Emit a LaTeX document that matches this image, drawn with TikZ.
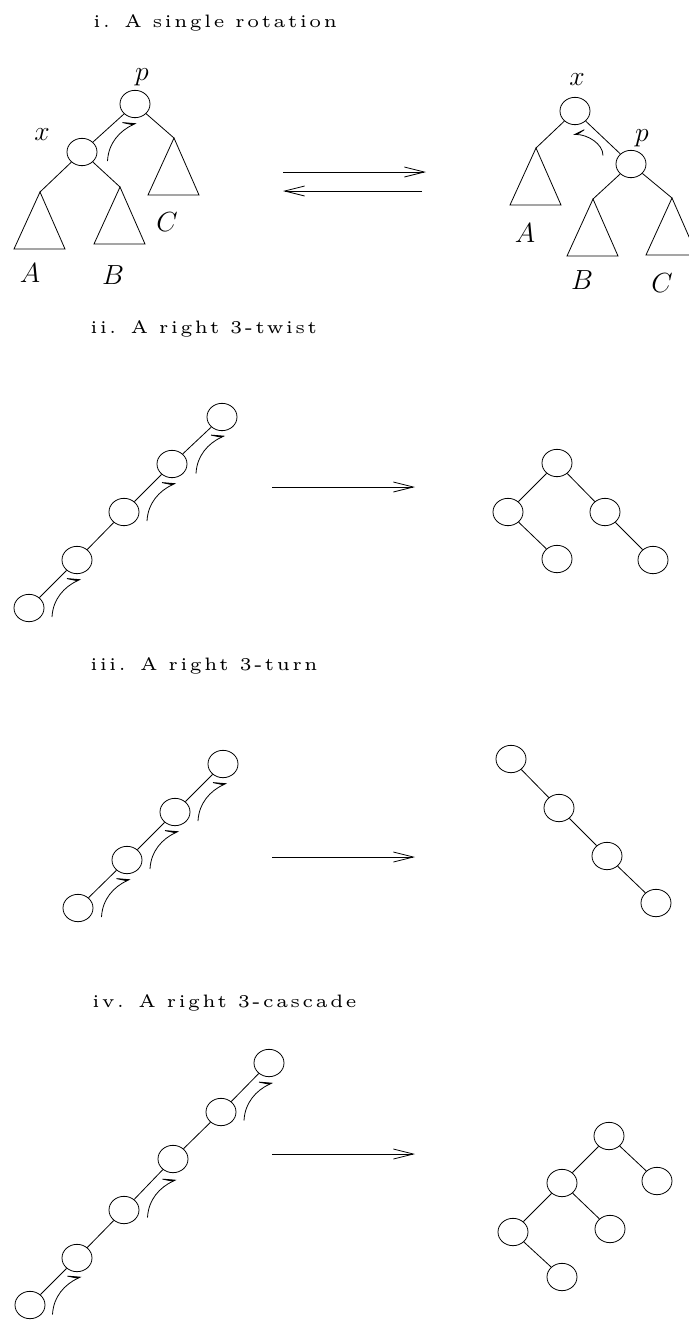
\documentclass[tikz,border=0pt]{standalone}
\usepackage{fontspec}
\usepackage{tikz}
\usetikzlibrary{arrows.meta,shapes.geometric,calc}
\newfontfamily\ttlfam{lmroman5-regular}[Extension=.otf, LetterSpace=12]
\newcommand\ttlfont{\fontsize{13.5}{16}\ttlfam}
\newcommand\lblfont{\fontsize{21}{23}\selectfont}
\tikzset{
  vtx/.style={draw, ellipse, minimum width=22.5pt, minimum height=20.5pt, inner sep=0pt},
  lbl/.style={font=\lblfont, inner sep=0pt},
  ttl/.style={font=\ttlfont, anchor=base west, inner sep=0pt},
  bigarr/.style={-{Straight Barb[length=15pt,width=7.5pt]}},
  rotarr/.style={-{Stealth[harpoon,length=13pt,width=15pt,inset=10pt]}},
  rotarrs/.style={-{Stealth[harpoon,swap,length=12pt,width=12pt,inset=9pt]}},
  rotl/.pic={\draw[rotarr] (-1,33) .. controls +(1,-18) and +(-17,8) .. (28,-5);},
  rotr/.pic={\draw[rotarrs] (0,18) .. controls +(0,-12) and +(14,0) .. (-30,-3);}
}

\begin{document}
\begin{tikzpicture}[x=0.75pt, y=-0.75pt, line width=0.6pt]
  \useasboundingbox (0,0) rectangle (689,1321);

  % i. single rotation
  \node[ttl] (t1) at (93,27) {i. A single rotation};
  \node[vtx] (p1) at (135,104) {};
  \node[vtx] (x1) at (82,152) {};
  \coordinate (A1) at (40,192);
  \coordinate (B1) at (120,187);
  \coordinate (C1) at (174,138);
  \draw (p1) -- (x1);
  \draw (p1) -- (C1);
  \draw (x1) -- (A1);
  \draw (x1) -- (B1);
  \draw (A1) -- ++(-26,57) -- ++(51,0) -- cycle;
  \draw (B1) -- ++(-26,57) -- ++(51,0) -- cycle;
  \draw (C1) -- ++(-26,57) -- ++(51,0) -- cycle;
  \pic at ($(p1)!.5!(x1)$) {rotl};
  \node[lbl] (lp1) at (142,77) {$p$};
  \node[lbl] (lx1) at (42,135) {$x$};
  \node[lbl] (lA1) at (30,273) {$A$};
  \node[lbl] (lB1) at (113,275) {$B$};
  \node[lbl] (lC1) at (167,222) {$C$};

  \coordinate (f1) at (283,172);
  \coordinate (g1) at (426,172);
  \coordinate (f2) at (422,191);
  \coordinate (g2) at (283,191);
  \draw[bigarr] (f1) -- (g1);
  \draw[bigarr] (f2) -- (g2);

  \node[vtx] (x2) at (575,111) {};
  \node[vtx] (p2) at (631,164) {};
  \coordinate (A2) at (536,148);
  \coordinate (B2) at (593,199);
  \coordinate (C2) at (672,198);
  \draw (x2) -- (p2);
  \draw (x2) -- (A2);
  \draw (p2) -- (B2);
  \draw (p2) -- (C2);
  \draw (A2) -- ++(-26,57) -- ++(51,0) -- cycle;
  \draw (B2) -- ++(-26,57) -- ++(51,0) -- cycle;
  \draw (C2) -- ++(-26,57) -- ++(51,0) -- cycle;
  \pic at ($(x2)!.5!(p2)$) {rotr};
  \node[lbl] (lx2) at (577,80) {$x$};
  \node[lbl] (lp2) at (642,138) {$p$};
  \node[lbl] (lA2) at (525,233) {$A$};
  \node[lbl] (lB2) at (582,280) {$B$};
  \node[lbl] (lC2) at (662,283) {$C$};

  % ii. right 3-twist
  \node[ttl] (t2) at (90,333) {ii. A right 3-twist};
  \node[vtx] (a1) at (222,417) {};
  \node[vtx] (a2) at (172,464) {};
  \node[vtx] (a3) at (124,512) {};
  \node[vtx] (a4) at (77,560) {};
  \node[vtx] (a5) at (29,608) {};
  \draw (a1) -- (a2) -- (a3) -- (a4) -- (a5);
  \pic at ($(a1)!.5!(a2)$) {rotl};
  \pic at ($(a2)!.5!(a3)$) {rotl};
  \pic at ($(a4)!.5!(a5)$) {rotl};

  \coordinate (f3) at (272,487);
  \coordinate (g3) at (415,487);
  \draw[bigarr] (f3) -- (g3);

  \node[vtx] (b1) at (557,463) {};
  \node[vtx] (b2) at (508,512) {};
  \node[vtx] (b3) at (605,512) {};
  \node[vtx] (b4) at (557,559) {};
  \node[vtx] (b5) at (653,560) {};
  \draw (b1) -- (b2);
  \draw (b1) -- (b3);
  \draw (b2) -- (b4);
  \draw (b3) -- (b5);

  % iii. right 3-turn
  \node[ttl] (t3) at (90,670) {iii. A right 3-turn};
  \node[vtx] (c1) at (223,764) {};
  \node[vtx] (c2) at (175,812) {};
  \node[vtx] (c3) at (127,860) {};
  \node[vtx] (c4) at (78,908) {};
  \draw (c1) -- (c2) -- (c3) -- (c4);
  \pic at ($(c1)!.5!(c2)$) {rotl};
  \pic at ($(c2)!.5!(c3)$) {rotl};
  \pic at ($(c3)!.5!(c4)$) {rotl};

  \coordinate (f4) at (272,857);
  \coordinate (g4) at (415,857);
  \draw[bigarr] (f4) -- (g4);

  \node[vtx] (d1) at (511,759) {};
  \node[vtx] (d2) at (559,808) {};
  \node[vtx] (d3) at (607,856) {};
  \node[vtx] (d4) at (656,903) {};
  \draw (d1) -- (d2) -- (d3) -- (d4);

  % iv. right 3-cascade
  \node[ttl] (t4) at (92,1007) {iv. A right 3-cascade};
  \node[vtx] (e1) at (269,1063) {};
  \node[vtx] (e2) at (221,1112) {};
  \node[vtx] (e3) at (173,1159) {};
  \node[vtx] (e4) at (124,1210) {};
  \node[vtx] (e5) at (77,1258) {};
  \node[vtx] (e6) at (30,1305) {};
  \draw (e1) -- (e2) -- (e3) -- (e4) -- (e5) -- (e6);
  \pic at ($(e1)!.5!(e2)$) {rotl};
  \pic at ($(e3)!.5!(e4)$) {rotl};
  \pic at ($(e5)!.5!(e6)$) {rotl};

  \coordinate (f5) at (272,1154);
  \coordinate (g5) at (415,1154);
  \draw[bigarr] (f5) -- (g5);

  \node[vtx] (h1) at (609,1136) {};
  \node[vtx] (h2) at (562,1183) {};
  \node[vtx] (h3) at (657,1181) {};
  \node[vtx] (h4) at (513,1232) {};
  \node[vtx] (h5) at (610,1229) {};
  \node[vtx] (h6) at (562,1277) {};
  \draw (h1) -- (h2);
  \draw (h1) -- (h3);
  \draw (h2) -- (h4);
  \draw (h2) -- (h5);
  \draw (h4) -- (h6);
\end{tikzpicture}
\end{document}
